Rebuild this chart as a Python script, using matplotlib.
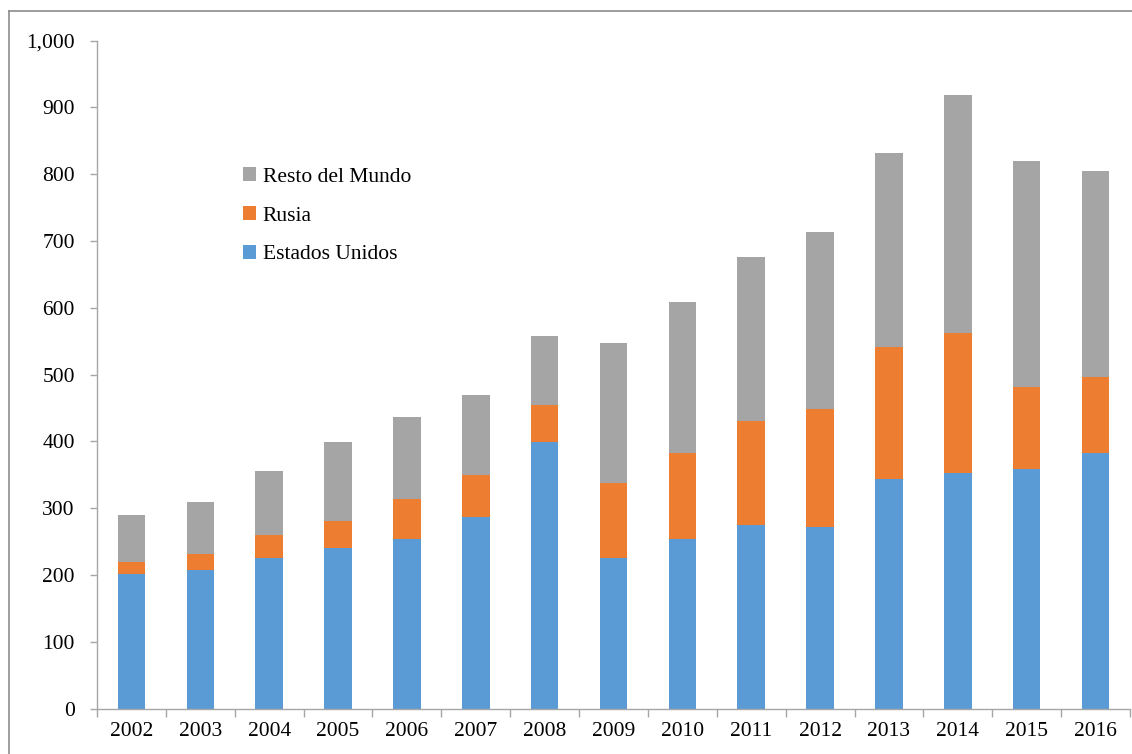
import matplotlib
matplotlib.use('Agg')
import numpy as np
import matplotlib.pyplot as plt
import matplotlib.ticker as mticker
from matplotlib.lines import Line2D

plt.rcParams['font.family'] = ['Liberation Serif', 'DejaVu Serif']

years = ['2002', '2003', '2004', '2005', '2006', '2007', '2008', '2009',
         '2010', '2011', '2012', '2013', '2014', '2015', '2016']
# stacked totals
eeuu = [202, 207, 226, 240, 253, 286, 399, 226, 253, 274, 271, 343, 352, 358, 382]
rusia_top = [219, 232, 259, 280, 313, 349, 454, 337, 382, 430, 448, 541, 562, 481, 496]
total = [289, 309, 355, 399, 436, 469, 558, 547, 609, 676, 714, 831, 919, 819, 804]

rusia = np.array(rusia_top) - np.array(eeuu)
resto = np.array(total) - np.array(rusia_top)

c_blue = '#5B9BD5'
c_orange = '#ED7D31'
c_gray = '#A5A5A5'
axis_col = '#A6A6A6'

fig = plt.figure(figsize=(11.32, 7.54), dpi=100)
ax = fig.add_axes([97 / 1132, 1 - 708.5 / 754, (1130 - 97) / 1132, (708.5 - 40.5) / 754])

x = np.arange(len(years))
w = 0.4
b1 = ax.bar(x, eeuu, w, color=c_blue, label='Estados Unidos')
b2 = ax.bar(x, rusia, w, bottom=eeuu, color=c_orange, label='Rusia')
b3 = ax.bar(x, resto, w, bottom=rusia_top, color=c_gray, label='Resto del Mundo')

ax.set_xlim(-0.5, len(years) - 0.5)
ax.set_ylim(0, 1000)
ax.yaxis.set_major_locator(mticker.MultipleLocator(100))
ax.yaxis.set_major_formatter(mticker.FuncFormatter(lambda v, p: f'{int(v):,}'))

ax.set_xticks(x)
ax.set_xticklabels(years)
ax.set_xticks(np.arange(-0.5, len(years)), minor=True)
ax.tick_params(axis='x', which='major', length=0, pad=10, labelsize=15.5)
ax.tick_params(axis='x', which='minor', length=6, color=axis_col, width=1)
ax.tick_params(axis='y', length=5, color=axis_col, width=1, pad=11, labelsize=15.5)

for s in ['top', 'right']:
    ax.spines[s].set_visible(False)
for s in ['left', 'bottom']:
    ax.spines[s].set_color(axis_col)
    ax.spines[s].set_linewidth(1)

ax.legend(handles=[b3, b2, b1], loc='upper left',
          bbox_to_anchor=(224 / 1132, 1 - 148 / 754), bbox_transform=fig.transFigure,
          frameon=False, fontsize=15.5, handlelength=0.6, handleheight=0.6,
          handletextpad=0.3, labelspacing=0.9)

# outer chart frame
fig.add_artist(Line2D([9 / 1132, 9 / 1132], [0, 1 - 11 / 754], color='#8C8C8C', lw=1.2,
                      transform=fig.transFigure))
fig.add_artist(Line2D([9 / 1132, 1], [1 - 11 / 754, 1 - 11 / 754], color='#8C8C8C', lw=1.2,
                      transform=fig.transFigure))

fig.savefig('out.png', dpi=100)
